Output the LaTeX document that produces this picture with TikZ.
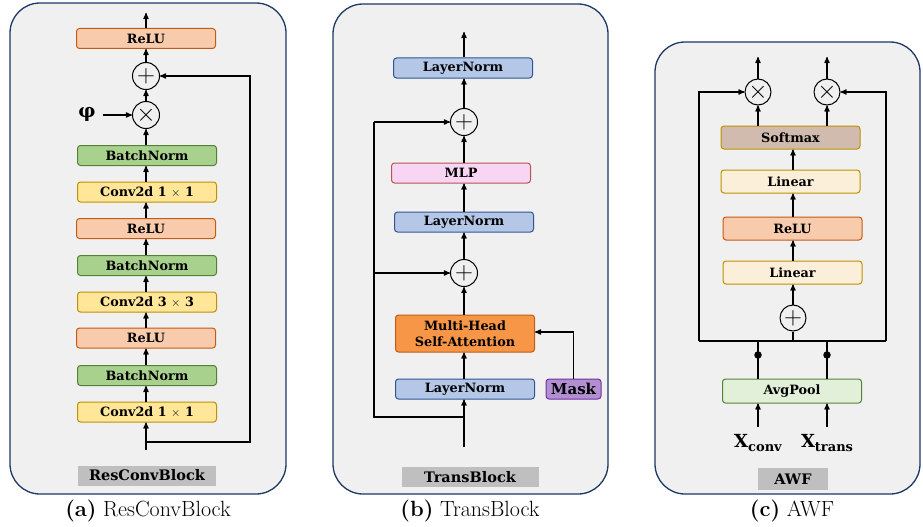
\documentclass[tikz,border=0pt]{standalone}
\usepackage{fontspec}
\usepackage{bm}
\newfontfamily\blkfont{DejaVu Serif}
\usetikzlibrary{arrows,calc,backgrounds}
\definecolor{panelfill}{HTML}{F0F0F0}
\definecolor{paneldraw}{HTML}{1F3864}
\definecolor{relufill}{HTML}{F8CBAD}
\definecolor{reludraw}{HTML}{C55A11}
\definecolor{bnfill}{HTML}{A9D18E}
\definecolor{bndraw}{HTML}{548235}
\definecolor{convfill}{HTML}{FFE699}
\definecolor{golddraw}{HTML}{BF9000}
\definecolor{lnfill}{HTML}{B4C7E7}
\definecolor{lndraw}{HTML}{2F5597}
\definecolor{mlpfill}{HTML}{F8D5F3}
\definecolor{mlpdraw}{HTML}{B85450}
\definecolor{attfill}{HTML}{F79646}
\definecolor{maskfill}{HTML}{B18FD0}
\definecolor{maskdraw}{HTML}{7030A0}
\definecolor{softfill}{HTML}{D1BBAE}
\definecolor{linfill}{HTML}{FBEFD9}
\definecolor{poolfill}{HTML}{E2F0D9}
\definecolor{tagfill}{HTML}{BFBFBF}

\begin{document}
\begin{tikzpicture}[x=1pt, y=-1pt, >=stealth', line width=1.2pt,
  panel/.style = {draw=paneldraw, fill=panelfill, line width=1.3pt, rounded corners=30pt},
  blk/.style = {shape=rectangle, rounded corners=3pt, draw, line width=1pt,
    minimum width=139pt, minimum height=20pt, inner sep=0pt,
    font=\blkfont\bfseries\fontsize{12.8}{16}\selectfont, align=center},
  relu/.style = {blk, fill=relufill, draw=reludraw},
  bnorm/.style = {blk, fill=bnfill, draw=bndraw},
  conv/.style = {blk, fill=convfill, draw=golddraw},
  lnorm/.style = {blk, fill=lnfill, draw=lndraw},
  tag/.style = {shape=rectangle, fill=tagfill, inner sep=0pt, minimum height=20pt,
    font=\blkfont\bfseries\fontsize{14.5}{16}\selectfont},
  op/.style = {shape=circle, draw, line width=1pt, minimum size=27pt, inner sep=0pt,
    font=\fontsize{24}{24}\selectfont},
  dot/.style = {shape=circle, fill, inner sep=0pt, minimum size=7.5pt},
  caption/.style = {font=\fontsize{22}{24}\selectfont}]

  \useasboundingbox (0,0) rectangle (923,527);

  % panels
  \draw[panel] (10,3) rectangle (286,494);
  \draw[panel] (333,4) rectangle (608,494);
  \draw[panel] (655,42) rectangle (920,494);

  % (a) ResConvBlock
  \node[relu]  (reluA3) at (146,38.5) {ReLU};
  \node[op]    (addA)   at (146,76)   {$+$};
  \node[op]    (mulA)   at (146,115)  {$\times$};
  \node        (phi)    at (87,114)   {\blkfont\bfseries\fontsize{19}{19}\selectfont φ};
  \node[bnorm] (bnA3)   at (147,155.5) {BatchNorm};
  \node[conv]  (convA3) at (147,192)  {Conv2d 1 $\times$ 1};
  \node[relu]  (reluA2) at (146,228.5) {ReLU};
  \node[bnorm] (bnA2)   at (147,265.5) {BatchNorm};
  \node[conv]  (convA2) at (147,302)  {Conv2d 3 $\times$ 3};
  \node[relu]  (reluA1) at (146,338)  {ReLU};
  \node[bnorm] (bnA1)   at (147,375.5) {BatchNorm};
  \node[conv]  (convA1) at (147,412)  {Conv2d 1 $\times$ 1};
  \coordinate (inA)  at (146,450);
  \coordinate (outA) at (146,13);
  \coordinate (skipA) at (146,442);
  \node[tag, minimum width=138pt] (tagA) at (147,475.5) {ResConvBlock};
  \node[caption] (capA) at (148,511) {\textbf{(a)} ResConvBlock};

  \draw[->] (inA) -- (convA1.south -| inA);
  \foreach \a/\b in {convA1/bnA1, bnA1/reluA1, reluA1/convA2, convA2/bnA2,
      bnA2/reluA2, reluA2/convA3, convA3/bnA3}
    \draw[->] (\a.north -| inA) -- (\b.south -| inA);
  \draw[->] (bnA3.north -| inA) -- (mulA);
  \draw[->] (mulA) -- (addA);
  \draw[->] (addA) -- (reluA3);
  \draw[->] (reluA3) -- (outA);
  \draw[->] (phi.east |- mulA) ++(3,0) -- (mulA);
  \draw[->] (skipA) -- (250,442) -- (250,76) -- (addA);

  % (b) TransBlock
  \node[lnorm] (lnB3)  at (463,68)  {LayerNorm};
  \node[op]    (addB2) at (464,122) {$+$};
  \node[blk, fill=mlpfill, draw=mlpdraw] (mlpB) at (461,173) {MLP};
  \node[lnorm] (lnB2)  at (464,222) {LayerNorm};
  \node[op]    (addB1) at (464,273) {$+$};
  \node[blk, fill=attfill, draw=reludraw, minimum height=37pt] (attB) at (465,333.5)
    {Multi-Head\\Self-Attention};
  \node[lnorm] (lnB1)  at (465,389) {LayerNorm};
  \node[blk, fill=maskfill, draw=maskdraw, minimum width=55pt,
    font=\blkfont\bfseries\fontsize{15}{16}\selectfont] (maskB) at (573.5,389) {Mask};
  \coordinate (inB)   at (464,447);
  \coordinate (outB)  at (464,32);
  \coordinate (skipB) at (464,417);
  \node[tag, minimum width=137pt] (tagB) at (470,477) {TransBlock};
  \node[caption] (capB) at (470,511) {\textbf{(b)} TransBlock};

  \draw[->] (inB) -- (lnB1.south -| inB);
  \draw[->] (lnB1.north -| inB) -- (attB.south -| inB);
  \draw[->] (attB.north -| inB) -- (addB1);
  \draw[->] (addB1) -- (lnB2.south -| inB);
  \draw[->] (lnB2.north -| inB) -- (mlpB.south -| inB);
  \draw[->] (mlpB.north -| inB) -- (addB2);
  \draw[->] (addB2) -- (lnB3.south -| inB);
  \draw[->] (lnB3.north -| inB) -- (outB);
  \draw (skipB) -- (374,417) -- (374,122);
  \draw[->] (374,122) -- (addB2);
  \draw[->] (374,273) -- (addB1);
  \draw[->] (maskB.north) |- (attB.east |- 0,332);

  % (c) AWF
  \node[op, minimum size=26pt] (mulC1) at (758,92) {$\times$};
  \node[op, minimum size=26pt] (mulC2) at (827,92) {$\times$};
  \node[blk, fill=softfill, draw=golddraw, minimum height=23pt] (softC) at (790.5,137.5) {Softmax};
  \node[blk, fill=linfill, draw=golddraw, minimum height=23pt] (linC2) at (790.5,181.5) {Linear};
  \node[relu, minimum height=23pt] (reluC) at (792.5,228.5) {ReLU};
  \node[blk, fill=linfill, draw=golddraw, minimum height=23pt] (linC1) at (792.5,272.5) {Linear};
  \node[op, minimum size=26pt] (addC) at (793,318) {$+$};
  \node[blk, fill=poolfill, draw=bndraw, minimum height=24pt] (poolC) at (792,391) {AvgPool};
  \node[dot] (dotC1) at (758,355) {};
  \node[dot] (dotC2) at (827,355) {};
  \node (xconv)  at (758,443) {\blkfont\bfseries\fontsize{18}{18}\selectfont X\raisebox{-4.5pt}{\fontsize{13}{13}\selectfont conv}};
  \node (xtrans) at (827,443) {\blkfont\bfseries\fontsize{18}{18}\selectfont X\raisebox{-4.5pt}{\fontsize{13}{13}\selectfont trans}};
  \node[tag, minimum width=70pt, minimum height=22pt] (tagC) at (793,479) {AWF};
  \node[caption] (capC) at (792,511) {\textbf{(c)} AWF};

  \draw[->] (758,427) -- (poolC.south -| xconv);
  \draw[->] (827,427) -- (poolC.south -| xtrans);
  \draw (poolC.north -| dotC1) -- (758,341);
  \draw (poolC.north -| dotC2) -- (827,341);
  \draw (699,341) -- (886,341);
  \draw (addC) -- (793,341);
  \draw[->] (addC) -- (linC1.south -| addC);
  \draw[->] (linC1.north -| addC) -- (reluC.south -| addC);
  \draw[->] (reluC.north -| addC) -- (linC2.south -| addC);
  \draw[->] (linC2.north -| addC) -- (softC.south -| addC);
  \draw[->] (softC.north -| mulC1) -- (mulC1);
  \draw[->] (softC.north -| mulC2) -- (mulC2);
  \draw[->] (699,341) -- (699,92) -- (mulC1);
  \draw[->] (886,341) -- (886,92) -- (mulC2);
  \draw[->] (mulC1) -- (758,57);
  \draw[->] (mulC2) -- (827,57);
\end{tikzpicture}
\end{document}
